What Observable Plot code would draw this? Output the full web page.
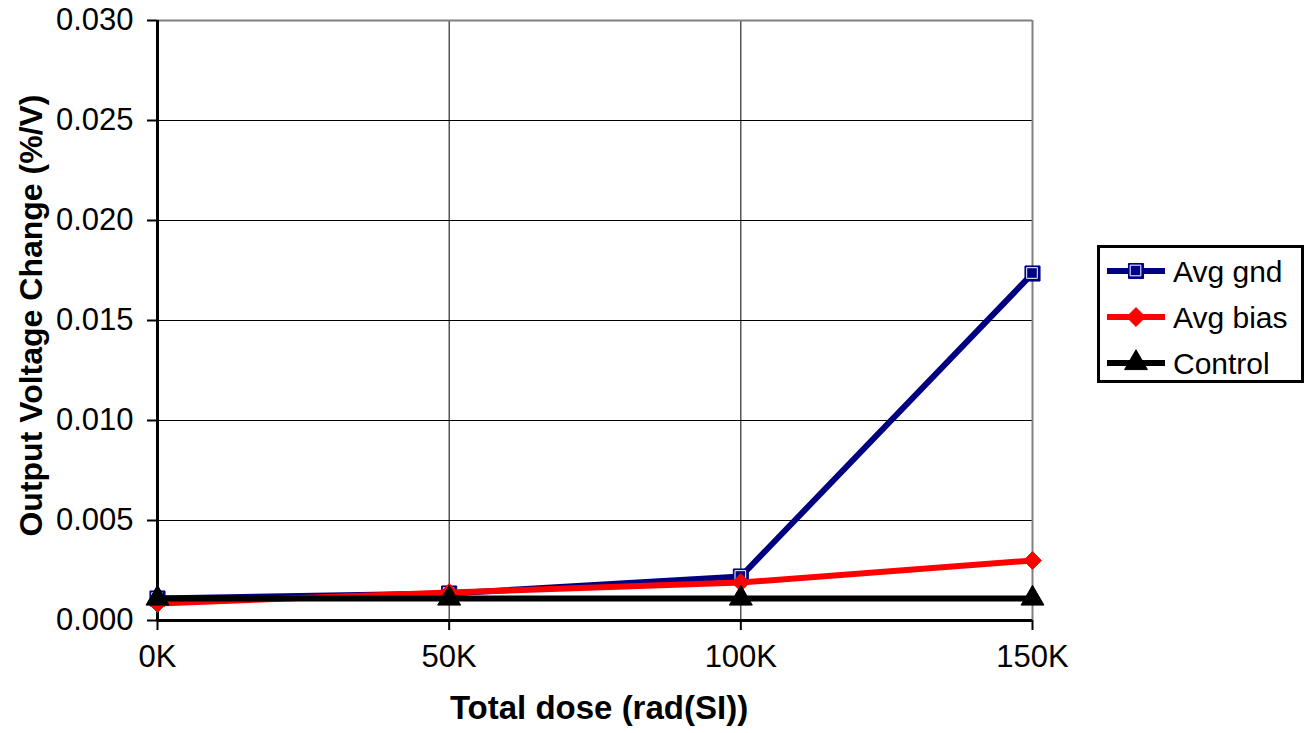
<!DOCTYPE html>
<html>
<head>
<meta charset="utf-8">
<script src="https://cdn.jsdelivr.net/npm/d3@7"></script>
<script src="https://cdn.jsdelivr.net/npm/@observablehq/plot@0.6"></script>
<style>
  html, body { margin: 0; padding: 0; background: #fff; }
  #wrap { position: relative; width: 1309px; height: 733px; font-family: Arial, "Liberation Sans", sans-serif; }
  #legend { position: absolute; left: 1097px; top: 245px; }
</style>
</head>
<body>
<div id="wrap"><div id="chart"></div><div id="legend"></div></div>
<script>
const doses = [0, 50, 100, 150];            // K rad(SI)
const avgGnd = [0.0011, 0.00135, 0.0022, 0.01735];
const avgBias = [0.00085, 0.0014, 0.0019, 0.0030];
const control = [0.0011, 0.0011, 0.0011, 0.0011];
const xTicks = [0, 50, 100, 150];
const yTicks = [0, 0.005, 0.010, 0.015, 0.020, 0.025, 0.030];
const seriesNames = ["Avg gnd", "Avg bias", "Control"];
const seriesColors = ["#000080", "#ff0000", "#000000"];
const seriesSymbols = ["square", "diamond2", "triangle"];

const rows = [];
[avgGnd, avgBias, control].forEach((vals, i) => {
  vals.forEach((v, j) => rows.push({series: seriesNames[i], dose: doses[j], value: v}));
});
const gndRows = rows.filter(d => d.series === "Avg gnd");
const biasRows = rows.filter(d => d.series === "Avg bias");
const ctrlRows = rows.filter(d => d.series === "Control");

const FONT = "Arial, 'Liberation Sans', sans-serif";

const chart = Plot.plot({
  width: 1309,
  height: 733,
  marginLeft: 157,
  marginRight: 277,
  marginTop: 20,
  marginBottom: 113,
  style: {fontFamily: FONT, fontSize: "31px", color: "#000", background: "#fff"},
  x: {domain: [0, 150], ticks: xTicks, tickFormat: d => d + "K"},
  y: {domain: [0, 0.03], ticks: yTicks, tickFormat: d3.format(".3f")},
  marks: [
    Plot.ruleY(yTicks.slice(1, -1), {stroke: "#000", strokeWidth: 1}),
    Plot.ruleX(xTicks.slice(1, -1), {stroke: "#000", strokeWidth: 1}),
    Plot.ruleY([0.03], {stroke: "#808080", strokeWidth: 2}),
    Plot.ruleX([150], {stroke: "#808080", strokeWidth: 2}),
    Plot.axisX({ticks: xTicks, tickFormat: d => d + "K", tickSize: 10, tickPadding: 14, stroke: "#000", strokeWidth: 2, fontSize: 31, label: null}),
    Plot.axisY({ticks: yTicks, tickFormat: d3.format(".3f"), tickSize: 10, tickPadding: 14, stroke: "#000", strokeWidth: 2, fontSize: 31, label: null}),
    Plot.ruleX([0], {stroke: "#000", strokeWidth: 3}),
    Plot.ruleY([0], {stroke: "#000", strokeWidth: 3}),
    Plot.text(["Total dose (rad(SI))"], {frameAnchor: "bottom", dy: 98, dx: 4, fontSize: 33, fontWeight: "bold", fill: "#000"}),
    Plot.text(["Output Voltage Change (%/V)"], {frameAnchor: "left", dx: -126, dy: -5, rotate: -90, textAnchor: "middle", fontSize: 32, fontWeight: "bold", fill: "#000"}),
    // Series 1: Avg gnd
    Plot.line(gndRows, {x: "dose", y: "value", stroke: "#000080", strokeWidth: 6}),
    Plot.dot(gndRows, {x: "dose", y: "value", symbol: () => "square", fill: "#000080", stroke: "#000080", r: 8.5, strokeWidth: 1}),
    Plot.dot(gndRows, {x: "dose", y: "value", symbol: () => "square", fill: "none", stroke: "#fff", r: 6, strokeWidth: 1, dx: -0.5, dy: -0.5}),
    // Series 2: Avg bias
    Plot.line(biasRows, {x: "dose", y: "value", stroke: "#ff0000", strokeWidth: 6}),
    Plot.dot(biasRows, {x: "dose", y: "value", symbol: () => "diamond2", fill: "#ff0000", stroke: "#ff0000", r: 8, strokeWidth: 1}),
    // Series 3: Control
    Plot.line(ctrlRows, {x: "dose", y: "value", stroke: "#000", strokeWidth: 6}),
    Plot.dot(ctrlRows, {x: "dose", y: "value", symbol: () => "triangle", fill: "#000", stroke: "#000", r: 8.5, strokeWidth: 1})
  ]
});
document.getElementById("chart").appendChild(chart);

// Legend
const lg = d3.select("#legend").append("svg").attr("width", 208).attr("height", 139);
lg.append("rect").attr("x", 1.5).attr("y", 1.5).attr("width", 204).attr("height", 135)
  .attr("fill", "#fff").attr("stroke", "#000").attr("stroke-width", 3);
const symMap = {square: d3.symbolSquare, diamond2: d3.symbolDiamond2, triangle: d3.symbolTriangle};
seriesNames.forEach((name, i) => {
  const cy = 26 + i * 46;
  const g = lg.append("g");
  g.append("line").attr("x1", 10).attr("x2", 68).attr("y1", cy).attr("y2", cy)
    .attr("stroke", seriesColors[i]).attr("stroke-width", 6);
  g.append("path").attr("d", d3.symbol(symMap[seriesSymbols[i]], Math.PI * 8.5 * 8.5)())
    .attr("transform", `translate(39,${cy})`).attr("fill", seriesColors[i]).attr("stroke", seriesColors[i]);
  if (i === 0) {
    g.append("path").attr("d", d3.symbol(d3.symbolSquare, Math.PI * 6 * 6)())
      .attr("transform", `translate(38.5,${cy - 0.5})`).attr("fill", "none").attr("stroke", "#fff");
  }
  g.append("text").attr("x", 76).attr("y", cy).attr("dy", "0.35em")
    .attr("font-family", FONT).attr("font-size", 30).attr("fill", "#000").text(name);
});
</script>
</body>
</html>
